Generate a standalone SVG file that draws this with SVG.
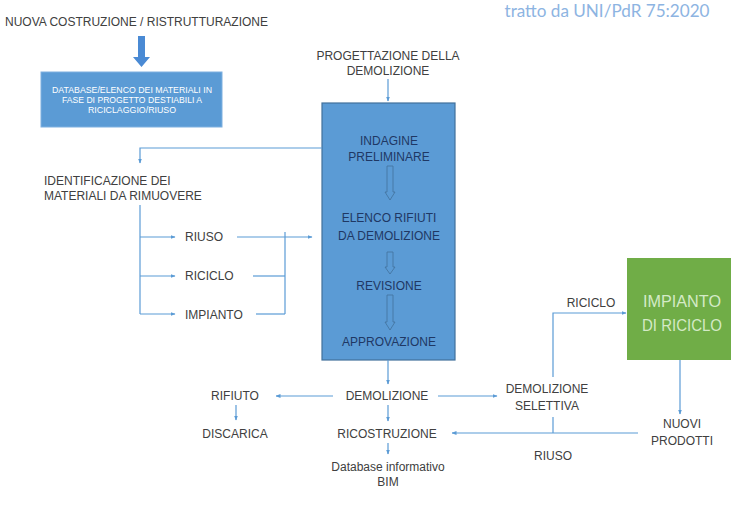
<svg xmlns="http://www.w3.org/2000/svg" width="732" height="506" viewBox="0 0 732 506">
<style>
.t{font-family:"Liberation Sans",Arial,sans-serif;font-size:12px;fill:#404040;text-anchor:middle}
.l{text-anchor:start}
.w{font-family:"Liberation Sans",Arial,sans-serif;font-size:8.5px;fill:#ffffff;text-anchor:middle}
.n{font-family:"Liberation Sans",Arial,sans-serif;font-size:12px;fill:#1f3864;text-anchor:middle}
.g{font-family:"Liberation Sans",Arial,sans-serif;font-size:16px;fill:#d4eac6;text-anchor:middle}
.c{fill:none;stroke:#5b9bd5;stroke-width:1.2}
.h{fill:none;stroke:#41719c;stroke-width:0.8}
</style>
<defs>
<marker id="a" viewBox="0 0 10 10" refX="9" refY="5" markerWidth="5" markerHeight="5" orient="auto" markerUnits="userSpaceOnUse">
<path d="M0,1 L10,5 L0,9 z" fill="#5b9bd5"/>
</marker>
</defs>
<rect width="732" height="506" fill="#ffffff"/>
<text x="607" y="17" font-family="Lato,'Noto Sans',sans-serif" font-size="17" fill="#8db4e2" text-anchor="middle" textLength="205" lengthAdjust="spacingAndGlyphs">tratto da UNI/PdR 75:2020</text>

<g id="nuova"><text class="t l" x="5" y="26" font-size="11" textLength="263" lengthAdjust="spacingAndGlyphs">NUOVA COSTRUZIONE / RISTRUTTURAZIONE</text></g>
<g id="bigarrow"><path d="M138,36 H145 V57 H150 L141.5,67 L133,57 H138 Z" fill="#4a8ad4"/></g>
<g id="database">
<rect x="41" y="72" width="181" height="55" fill="#5b9bd5" stroke="#7fb0e0" stroke-width="1"/>
<text class="w" x="132" y="93" textLength="160" lengthAdjust="spacingAndGlyphs">DATABASE/ELENCO DEI MATERIALI IN</text>
<text class="w" x="132" y="103" textLength="140" lengthAdjust="spacingAndGlyphs">FASE DI PROGETTO DESTIABILI A</text>
<text class="w" x="132" y="113" textLength="88" lengthAdjust="spacingAndGlyphs">RICICLAGGIO/RIUSO</text>
</g>
<g id="progettazione">
<text class="t" x="388" y="60">PROGETTAZIONE DELLA</text>
<text class="t" x="388" y="75">DEMOLIZIONE</text>
</g>
<g id="processo">
<rect x="322" y="103" width="133" height="257" fill="#5b9bd5" stroke="#41719c" stroke-width="1.2"/>
<text class="n" x="389" y="145">INDAGINE</text>
<text class="n" x="389" y="161">PRELIMINARE</text>
<path class="h" d="M387,166 H393 V192 H395 L390,200 L385,192 H387 Z"/>
<text class="n" x="389" y="222">ELENCO RIFIUTI</text>
<text class="n" x="389" y="240">DA DEMOLIZIONE</text>
<path class="h" d="M387,252 H393 V267 H395 L390,274 L385,267 H387 Z"/>
<text class="n" x="389" y="290">REVISIONE</text>
<path class="h" d="M387,295 H393 V322 H395 L390,330 L385,322 H387 Z"/>
<text class="n" x="389" y="346">APPROVAZIONE</text>
</g>
<g id="identificazione">
<text class="t l" x="44" y="185">IDENTIFICAZIONE DEI</text>
<text class="t l" x="44" y="200">MATERIALI DA RIMUOVERE</text>
</g>
<g id="riuso1"><text class="t l" x="185" y="241">RIUSO</text></g>
<g id="riciclo1"><text class="t l" x="185" y="280">RICICLO</text></g>
<g id="impianto1"><text class="t l" x="185" y="319">IMPIANTO</text></g>
<g id="demolizione"><text class="t" x="387" y="400">DEMOLIZIONE</text></g>
<g id="rifiuto"><text class="t" x="235" y="400">RIFIUTO</text></g>
<g id="discarica"><text class="t" x="235" y="438">DISCARICA</text></g>
<g id="ricostruzione"><text class="t" x="387" y="438">RICOSTRUZIONE</text></g>
<g id="bim">
<text class="t" x="388" y="471">Database informativo</text>
<text class="t" x="388" y="486">BIM</text>
</g>
<g id="selettiva">
<text class="t" x="547" y="393">DEMOLIZIONE</text>
<text class="t" x="547" y="410">SELETTIVA</text>
</g>
<g id="impiantoriciclo">
<rect x="627" y="258" width="104" height="102" fill="#70ad47"/>
<text class="g" x="682" y="307" textLength="78" lengthAdjust="spacingAndGlyphs">IMPIANTO</text>
<text class="g" x="682" y="331" textLength="80" lengthAdjust="spacingAndGlyphs">DI RICICLO</text>
</g>
<g id="nuovi">
<text class="t" x="682" y="428">NUOVI</text>
<text class="t" x="682" y="445">PRODOTTI</text>
</g>
<g id="labels">
<text class="t" x="591" y="307">RICICLO</text>
<text class="t" x="553" y="460">RIUSO</text>
</g>

<g id="connectors">
<path class="c" d="M388,79 V101" marker-end="url(#a)"/>
<path class="c" d="M322,148 H140 V163" marker-end="url(#a)"/>
<path class="c" d="M140,205 V314"/>
<path class="c" d="M140,237 H175" marker-end="url(#a)"/>
<path class="c" d="M140,276 H175" marker-end="url(#a)"/>
<path class="c" d="M140,314 H175" marker-end="url(#a)"/>
<path class="c" d="M237,237 H312" marker-end="url(#a)"/>
<path class="c" d="M285,232 V314"/>
<path class="c" d="M253,276 H285"/>
<path class="c" d="M256,314 H285"/>
<path class="c" d="M388,360 V384" marker-end="url(#a)"/>
<path class="c" d="M333,396 H276" marker-end="url(#a)"/>
<path class="c" d="M236,405 V420" marker-end="url(#a)"/>
<path class="c" d="M438,396 H497" marker-end="url(#a)"/>
<path class="c" d="M388,405 V421" marker-end="url(#a)"/>
<path class="c" d="M388,443 V454" marker-end="url(#a)"/>
<path class="c" d="M553,377 V313 H626" marker-end="url(#a)"/>
<path class="c" d="M680,360 V414" marker-end="url(#a)"/>
<path class="c" d="M553,417 V433"/>
<path class="c" d="M638,433 H452" marker-end="url(#a)"/>
</g>
</svg>
